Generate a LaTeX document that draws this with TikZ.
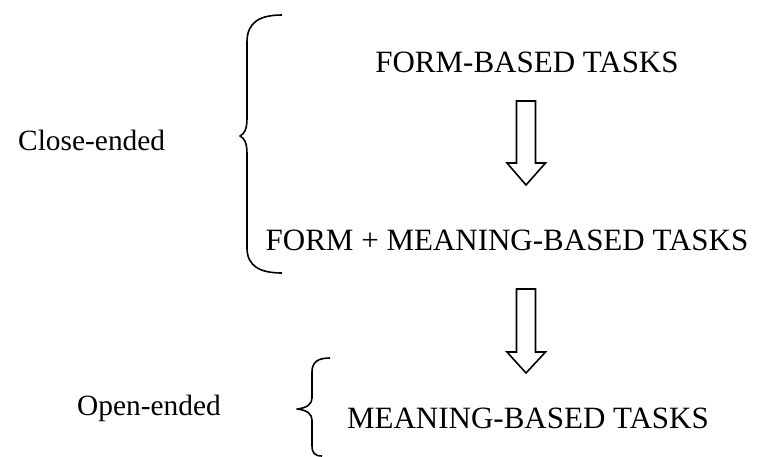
\documentclass[tikz,border=0pt]{standalone}
\usepackage{fontspec}
\setmainfont{Liberation Serif}
\usepackage{tikz}
\usetikzlibrary{calc}
\tikzstyle{task}=[inner sep=0pt,
anchor=base,
font=\fontsize{31}{36}\selectfont]
\tikzstyle{kind}=[inner sep=0pt,
anchor=base west,
font=\fontsize{29.4}{35}\selectfont]
\tikzstyle{brace}=[line width=1.6pt,
line join=round]
\tikzstyle{blockarrow}=[line width=1.6pt,
line join=miter,
fill=white]

\begin{document}
\begin{tikzpicture}[x=1pt,y=-1pt]
	\useasboundingbox (0,0) rectangle (758,456);

	% The three kinds of task, top to bottom
	\node (form)    [task] at (527,72)  {FORM-BASED TASKS};
	\node (formmean)[task] at (507,250) {FORM + MEANING-BASED TASKS};
	\node (meaning) [task] at (528,428) {MEANING-BASED TASKS};

	% Labels on the left
	\node (closed) [kind] at (18,150) {Close-ended};
	\node (open)   [kind] at (77,415) {Open-ended};

	% Hollow arrows between the tasks
	\coordinate (a1top) at (526,101);
	\coordinate (a1tip) at (526,185);
	\coordinate (a2top) at (526,289);
	\coordinate (a2tip) at (526,373);
	\draw[blockarrow] (a1top) ++(-9.5,0) -- ++(0,62) -- ++(-9.5,0) -- (a1tip)
		-- ++(19.5,-22) -- ++(-10,0) -- ++(0,-62) -- cycle;
	\draw[blockarrow] (a2top) ++(-9.5,0) -- ++(0,63) -- ++(-9.5,0) -- (a2tip)
		-- ++(19.5,-21) -- ++(-10,0) -- ++(0,-63) -- cycle;

	% Braces grouping the tasks
	\coordinate (b1tip) at (240,136);
	\coordinate (b2tip) at (297,409);
	\draw[brace] (282,15) .. controls (260,15) and (247,22) .. (247,42)
		-- (247,118) .. controls (247,130) and (244,134) .. (b1tip)
		.. controls (244,138) and (247,142) .. (247,154)
		-- (247,248) .. controls (247,266) and (260,273) .. (282,273);
	\draw[brace] (330,358) .. controls (318,358) and (312,362) .. (312,372)
		-- (312,398) .. controls (312,404) and (307,408) .. (b2tip)
		.. controls (307,410) and (312,414) .. (312,420)
		-- (312,446) .. controls (312,452) and (314,456) .. (322,456);
\end{tikzpicture}
\end{document}
